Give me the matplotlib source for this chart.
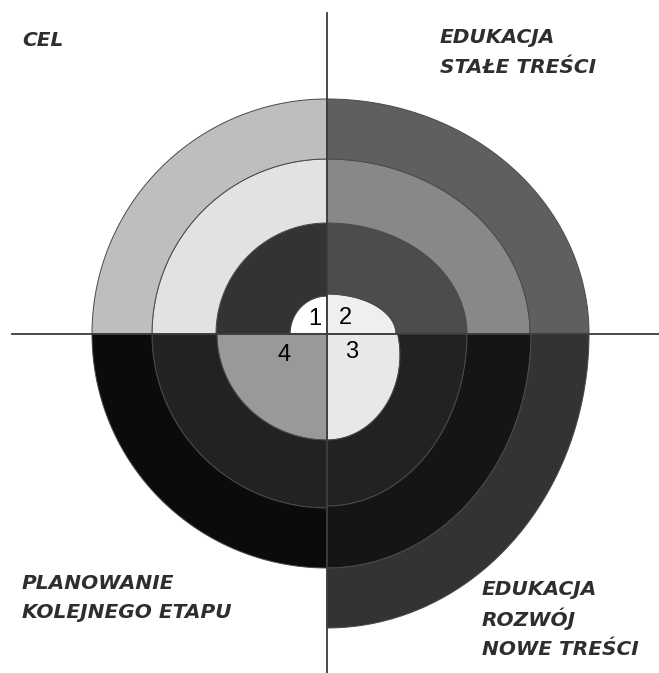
import numpy as np
import matplotlib
matplotlib.use("Agg")
import matplotlib.pyplot as plt
from matplotlib.patches import Polygon

# ---- data (pixel geometry) ----
center_x, center_y = 327, 334

# quadrant ring boundaries (semi-axes), innermost first
q1_rx = [0, 37, 111, 175, 235]
q1_ry = [0, 38, 111, 175, 235]
q1_dy = [0, 0, 0, 0, 0]
q2_rx = [0, 69, 140, 203, 262]
q2_ry = [0, 40, 111, 175, 235]
q2_dy = [0, 0, 0, 0, 0]
q3_rx = [0, 73, 140, 204, 262]
q3_ry = [0, 85, 172, 234, 294]
q3_dy = [0, 21, 0, 0, 0]
q4_rx = [0, 110, 175, 235]
q4_ry = [0, 106, 174, 234]
q4_dy = [0, 0, 0, 0]

q1_colors = ['#ffffff', '#333333', '#e2e2e2', '#bebebe']
q2_colors = ['#efefef', '#4c4c4c', '#888888', '#5f5f5f']
q3_colors = ['#e8e8e8', '#222222', '#151515', '#333333']
q4_colors = ['#999999', '#222222', '#0b0b0b']

q1_angles = (90, 180)
q2_angles = (0, 90)
q3_angles = (270, 360)
q4_angles = (180, 270)

numbers = ['1', '2', '3', '4']
number_x = [315, 345, 352, 284]
number_y = [319, 318, 352, 355]

label_lines = ['CEL', 'EDUKACJA', 'STAŁE TREŚCI', 'PLANOWANIE', 'KOLEJNEGO ETAPU',
               'EDUKACJA', 'ROZWÓJ', 'NOWE TREŚCI']
label_x = [22, 440, 440, 22, 22, 482, 482, 482]
label_y = [46, 43, 73, 589, 618, 595, 626, 655]

W, H = 659, 673
fig = plt.figure(figsize=(W / 100, H / 100), dpi=100)
ax = fig.add_axes([0, 0, 1, 1])
ax.set_xlim(0, W)
ax.set_ylim(H, 0)
ax.axis('off')


def arc(rx, ry, dy, a0, a1, n=160):
    # elliptical arc; centre may be shifted down by dy, arc then ends on the horizontal axis
    if dy != 0:
        t_top = np.degrees(np.arcsin(dy / ry))
        a0 = a0 if a0 != 0 else t_top
        a1 = a1 if a1 != 360 else 360 + t_top
    t = np.radians(np.linspace(a0, a1, n))
    return np.column_stack([center_x + rx * np.cos(t), center_y + dy - ry * np.sin(t)])


def draw_quadrant(rxs, rys, dys, colors, angles):
    a0, a1 = angles
    for i, col in enumerate(colors):
        outer = arc(rxs[i + 1], rys[i + 1], dys[i + 1], a0, a1)
        if rxs[i] == 0:
            inner = np.array([[center_x, center_y]])
        else:
            inner = arc(rxs[i], rys[i], dys[i], a0, a1)[::-1]
        pts = np.vstack([outer, inner])
        ax.add_patch(Polygon(pts, closed=True, facecolor=col, edgecolor='#4a4a4a',
                             linewidth=0.7, zorder=2))


draw_quadrant(q1_rx, q1_ry, q1_dy, q1_colors, q1_angles)
draw_quadrant(q2_rx, q2_ry, q2_dy, q2_colors, q2_angles)
draw_quadrant(q3_rx, q3_ry, q3_dy, q3_colors, q3_angles)
draw_quadrant(q4_rx, q4_ry, q4_dy, q4_colors, q4_angles)

# cross lines
ax.plot([12, W], [center_y, center_y], color='#3c3c3c', lw=1.3, zorder=5)
ax.plot([center_x, center_x], [13, H], color='#3c3c3c', lw=1.3, zorder=5)

for s, x, y in zip(numbers, number_x, number_y):
    ax.text(x, y, s, ha='center', va='center', fontsize=17,
            family='Liberation Sans', color='black', zorder=6)

for s, x, y in zip(label_lines, label_x, label_y):
    ax.text(x, y, s, ha='left', va='baseline', fontsize=14.5, family='DejaVu Sans',
            fontweight='bold', fontstyle='italic', color='#2e2e2e', zorder=6)

fig.savefig('out.png', dpi=100)
